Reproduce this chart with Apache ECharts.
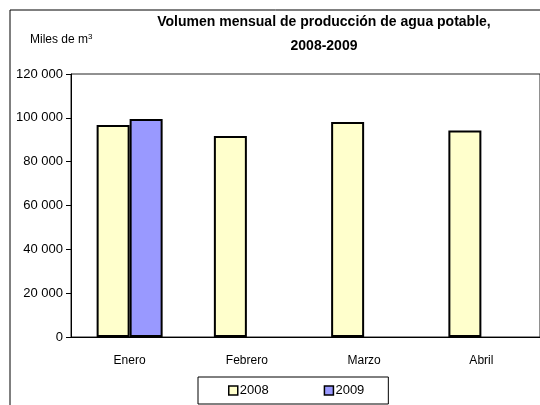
<!DOCTYPE html>
<html>
<head>
    <meta charset="utf-8">
    <title>Volumen mensual de producción de agua potable</title>
    <script src="https://cdn.jsdelivr.net/npm/echarts@6/dist/echarts.min.js"></script>
</head>
<body style="margin: 0;">
    <div id="chart" style="width: 540px; height: 405px;"></div>
    <script>
        // monthly volumes, thousands of m3
        var months = ['Enero', 'Febrero', 'Marzo', 'Abril'];
        var values2008 = [96700, 91700, 98100, 94200];
        var values2009 = [99500, null, null, null];
        var yTicks = [0, 20000, 40000, 60000, 80000, 100000, 120000];

        var chart = echarts.init(document.querySelector('#chart'));
        var font = 'Liberation Sans, Arial, sans-serif';

        var option = {
          animation: false,
          textStyle: { fontFamily: font, color: '#000' },
          title: {
            text: 'Volumen mensual de producción de agua potable,\n2008-2009',
            left: 324,
            top: 10,
            padding: 0,
            textAlign: 'center',
            textStyle: { fontFamily: font, fontSize: 14, fontWeight: 'bold', color: '#000', lineHeight: 24 }
          },
          graphic: [
            {
              type: 'rect',
              shape: { x: 10, y: 10, width: 560, height: 520 },
              style: { fill: 'none', stroke: '#000', lineWidth: 1 }
            },
            {
              type: 'text',
              left: 30,
              top: 33,
              style: {
                text: '{a|Miles de m}{b|3}',
                rich: {
                  a: { fontFamily: font, fontSize: 12, fill: '#000', lineHeight: 14 },
                  b: { fontFamily: font, fontSize: 8, fill: '#000', lineHeight: 8, verticalAlign: 'top' }
                }
              }
            }
          ],
          legend: {
            left: 198,
            top: 377,
            padding: [7, 24, 7, 30],
            itemWidth: 9,
            itemHeight: 9,
            itemGap: 55,
            icon: 'rect',
            borderColor: '#000',
            borderWidth: 1,
            itemStyle: { borderColor: '#000', borderWidth: 1.5 },
            textStyle: { fontFamily: font, fontSize: 13, color: '#000', padding: [0, 0, 0, -3] },
            data: ['2008', '2009']
          },
          grid: {
            left: 71,
            top: 74,
            width: 474,
            height: 263,
            show: true,
            borderColor: '#222',
            borderWidth: 1
          },
          xAxis: {
            type: 'category',
            data: months,
            axisLine: { lineStyle: { color: '#000' } },
            axisTick: { length: 4, lineStyle: { color: '#000' } },
            axisLabel: { fontSize: 12, color: '#000', margin: 18 }
          },
          yAxis: {
            type: 'value',
            min: yTicks[0],
            max: yTicks[yTicks.length - 1],
            interval: yTicks[1] - yTicks[0],
            splitLine: { show: false },
            axisLine: { show: true, lineStyle: { color: '#000' } },
            axisTick: { show: true, length: 5, lineStyle: { color: '#000' } },
            axisLabel: {
              fontSize: 13,
              color: '#000',
              margin: 8,
              formatter: function (v) {
                return String(v).replace(/\B(?=(\d{3})+(?!\d))/g, ' ');
              }
            }
          },
          series: [
            {
              name: '2008',
              type: 'bar',
              data: values2008,
              barWidth: 33,
              barGap: '0%',
              itemStyle: { color: '#FFFFCC', borderColor: '#000', borderWidth: 2 }
            },
            {
              name: '2009',
              type: 'bar',
              data: values2009,
              barWidth: 33,
              barGap: '0%',
              itemStyle: { color: '#9999FF', borderColor: '#000', borderWidth: 2 }
            }
          ]
        };
        chart.setOption(option);
    </script>
</body>
</html>
